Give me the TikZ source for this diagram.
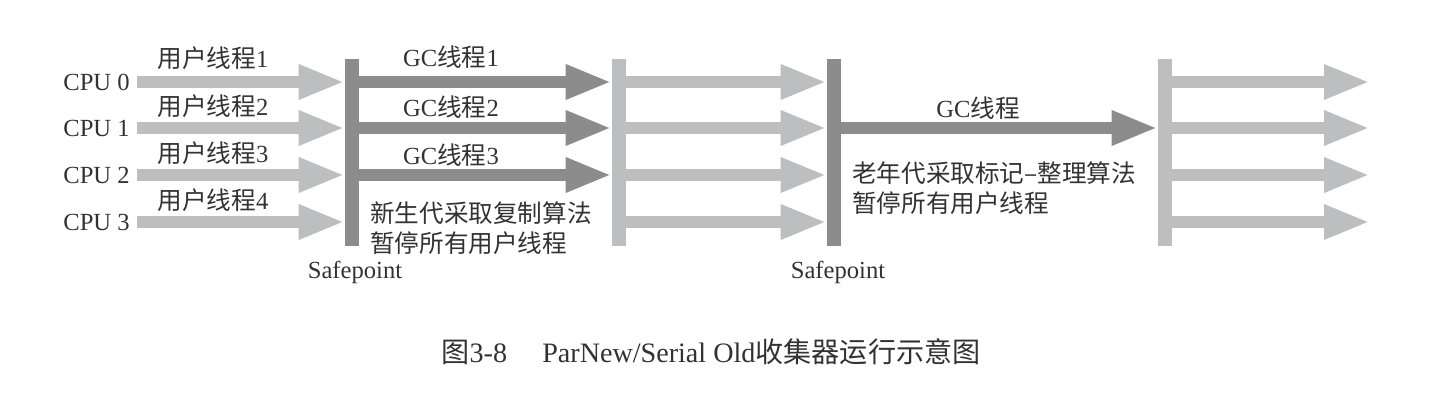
\documentclass[tikz,border=0pt]{standalone}
\usepackage{fontspec}
\setmainfont{Liberation Serif}
\newfontfamily\cjk{Noto Sans CJK SC}
\usepackage{xcolor}
\usepackage{tikz}
\usetikzlibrary{arrows.meta,positioning}

\definecolor{lightgray}{RGB}{189,190,192}
\definecolor{darkgray}{RGB}{140,140,140}
\definecolor{textgray}{RGB}{50,50,50}

\begin{document}
\begin{tikzpicture}[
        x=0.025cm, y=-0.025cm,
        lbl/.style={font=\fontsize{17.5}{21.3}\selectfont, text=textgray, inner sep=0pt},
        cpu/.style={lbl, anchor=east, inner xsep=0.175cm},
        bar/.style={rectangle, inner sep=0pt, minimum width=0.35cm, minimum height=4.675cm},
        thread/.style={line width=0.3cm, -{Triangle[length=1.15cm 0 0, width=0.8cm 0 0]}},
    ]
    \useasboundingbox (0,0) rectangle (1440,400);

    % CPUs
    \node[cpu] (cpu0) at (137,82) {CPU 0};
    \node[cpu] (cpu1) at (137,128) {CPU 1};
    \node[cpu] (cpu2) at (137,175) {CPU 2};
    \node[cpu] (cpu3) at (137,222) {CPU 3};

    % Safepoint bars
    \node[bar, fill=darkgray] (bar1) at (352,152.5) {};
    \node[bar, fill=lightgray] (bar2) at (619,152.5) {};
    \node[bar, fill=darkgray] (bar3) at (834,152.5) {};
    \node[bar, fill=lightgray] (bar4) at (1165,152.5) {};

    % Free ends on the right
    \coordinate (end0) at (1370,82);
    \coordinate (end1) at (1370,128);
    \coordinate (end2) at (1370,175);
    \coordinate (end3) at (1370,222);

    % User threads
    \foreach \i in {0,1,2,3} {
        \draw[thread, lightgray] (cpu\i.east) -- (cpu\i.east -| bar1.west);
        \draw[thread, lightgray] (bar2.east |- cpu\i) -- (bar3.west |- cpu\i);
        \draw[thread, lightgray] (bar4.east |- cpu\i) -- (end\i);
    }

    % GC threads (young gen)
    \foreach \i in {0,1,2} {
        \draw[thread, darkgray] (bar1.east |- cpu\i) -- (bar2.west |- cpu\i);
    }

    % GC thread (old gen)
    \draw[thread, darkgray] (bar3.east |- cpu1) -- (bar4.west |- cpu1);

    % Thread labels
    \node[lbl] (u1) at (213,58) {{\cjk 用户线程}1};
    \node[lbl] (u2) at (213,106) {{\cjk 用户线程}2};
    \node[lbl] (u3) at (213,153) {{\cjk 用户线程}3};
    \node[lbl] (u4) at (213,200) {{\cjk 用户线程}4};

    \node[lbl] (g1) at (451,57) {GC{\cjk 线程}1};
    \node[lbl] (g2) at (451,107) {GC{\cjk 线程}2};
    \node[lbl] (g3) at (451,155) {GC{\cjk 线程}3};
    \node[lbl] (g) at (978,108) {GC{\cjk 线程}};

    % Notes
    \node[lbl, anchor=west, align=left] (young) at (370,228)
        {\cjk 新生代采取复制算法\\\cjk 暂停所有用户线程};
    \node[lbl, anchor=west, align=left] (old) at (852,188)
        {\cjk 老年代采取标记–整理算法\\\cjk 暂停所有用户线程};

    \node[lbl] (sp1) at (355,272) {Safepoint};
    \node[lbl] (sp2) at (838,272) {Safepoint};

    % Caption
    \node[lbl, font=\fontsize{20}{24}\selectfont] (caption) at (711,352)
        {{\cjk 图}3-8\hspace{1.25em}ParNew/Serial Old{\cjk 收集器运行示意图}};

\end{tikzpicture}
\end{document}
